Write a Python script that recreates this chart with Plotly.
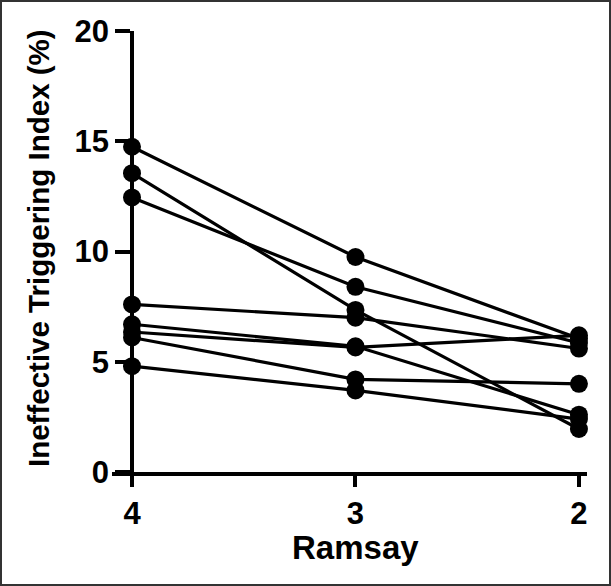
import plotly.graph_objects as go

# Ramsay levels (x, reversed axis)
ramsay = [4, 3, 2]
# Ineffective Triggering Index (%) per subject at Ramsay 4, 3, 2
subj1 = [14.75, 9.75, 6.05]
subj2 = [13.55, 7.35, 1.95]
subj3 = [12.45, 8.40, 5.85]
subj4 = [7.60, 7.00, 5.60]
subj5 = [6.70, 5.70, 2.60]
subj6 = [6.35, 5.65, 6.20]
subj7 = [6.10, 4.20, 4.00]
subj8 = [4.80, 3.70, 2.40]
subjects = [subj1, subj2, subj3, subj4, subj5, subj6, subj7, subj8]

y_ticks = [0, 5, 10, 15, 20]
x_ticks = [4, 3, 2]

W, H = 611, 586
ml, mr, mt, mb = 112, 24, 31, 114
pw, ph = W - ml - mr, H - mt - mb

xr = [4.0895, 1.964]
ypos = (xr[0] - 4) / (xr[0] - xr[1])

font_fam = "Liberation Sans, Arial, sans-serif"

fig = go.Figure()
for s in subjects:
    fig.add_trace(go.Scatter(
        x=ramsay, y=s, mode="lines+markers",
        line=dict(color="black", width=3.2),
        marker=dict(color="black", size=18, symbol="circle"),
        showlegend=False, cliponaxis=False,
    ))

fig.update_layout(
    width=W, height=H,
    margin=dict(l=ml, r=mr, t=mt, b=mb, pad=0),
    paper_bgcolor="white", plot_bgcolor="white",
    font=dict(family=font_fam, color="black", size=30, weight="bold"),
    xaxis=dict(
        range=xr, tickvals=x_ticks, ticktext=[str(v) for v in x_ticks],
        showgrid=False, zeroline=False, showline=True, linecolor="black", linewidth=3.5,
        ticks="outside", ticklen=11, tickwidth=3.5, tickcolor="black",
        tickfont=dict(size=31, family=font_fam, weight="bold"),
        anchor="y",
    ),
    yaxis=dict(
        range=[0, 20], tickvals=y_ticks, ticktext=[str(v) for v in y_ticks],
        showgrid=False, zeroline=False, showline=True, linecolor="black", linewidth=3.5,
        ticks="outside", ticklen=15, tickwidth=3.5, tickcolor="black",
        tickfont=dict(size=31, family=font_fam, weight="bold"),
        anchor="free", position=ypos,
    ),
    annotations=[
        dict(text="Ramsay", xref="x", yref="paper", x=3, y=(472 - 547) / ph,
             xanchor="center", yanchor="middle", showarrow=False,
             font=dict(size=33, family=font_fam, weight="bold")),
        dict(text="Ineffective Triggering Index (%)", xref="paper", yref="paper",
             x=(38 - ml) / pw, y=(472 - 248) / ph, textangle=-90,
             xanchor="center", yanchor="middle", showarrow=False,
             font=dict(size=29.5, family=font_fam, weight="bold")),
    ],
    shapes=[
        dict(type="rect", xref="paper", yref="paper",
             x0=(-ml + 1) / pw, x1=1 + (mr - 1) / pw,
             y0=-(mb - 1) / ph, y1=1 + (mt - 1) / ph,
             line=dict(color="#333333", width=2), fillcolor="rgba(0,0,0,0)", layer="below"),
    ],
)

fig.write_html("out.html", config={"displayModeBar": False},
               post_script="document.body.style.margin='0';document.body.style.padding='0';")
